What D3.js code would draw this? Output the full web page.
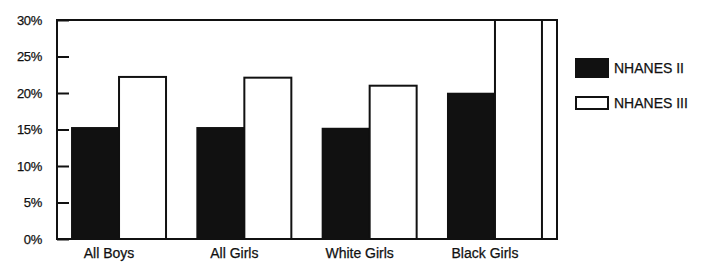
<!DOCTYPE html>
<html>
<head>
<meta charset="utf-8">
<script src="https://cdn.jsdelivr.net/npm/d3@7"></script>
<style>
  body { margin: 0; background: #fff; }
  text { font-family: "Liberation Sans", Arial, sans-serif; fill: #111; stroke: #111; stroke-width: 0.25px; }
</style>
</head>
<body>
<div id="chart"></div>
<script>
var categories = ["All Boys", "All Girls", "White Girls", "Black Girls"];
var seriesNames = ["NHANES II", "NHANES III"];
var nhanes2 = [15.2, 15.2, 15.1, 19.9];
var nhanes3 = [22.2, 22.1, 21.0, 31.0];
var yTicks = [0, 5, 10, 15, 20, 25, 30];

var W = 708, H = 268;
var margin = { top: 20, right: 151, bottom: 29, left: 57 };
var width = W - margin.left - margin.right;
var height = H - margin.top - margin.bottom;

var svg = d3.select("#chart").append("svg")
    .attr("width", W)
    .attr("height", H);

var g = svg.append("g")
    .attr("transform", "translate(" + margin.left + "," + margin.top + ")");

var x0 = d3.scaleBand()
    .domain(categories)
    .range([0, width])
    .paddingInner(0.25)
    .paddingOuter(0.12);

var x1 = d3.scaleBand()
    .domain(seriesNames)
    .range([0, x0.bandwidth()]);

var y = d3.scaleLinear()
    .domain([0, 30])
    .range([height, 0]);

svg.append("clipPath").attr("id", "plotclip")
    .append("rect").attr("x", 0).attr("y", 0).attr("width", width).attr("height", height);

var rows = categories.map(function(c, i) {
    return { cat: c, vals: [nhanes2[i], nhanes3[i]] };
});

var bars = g.append("g").attr("clip-path", "url(#plotclip)");

rows.forEach(function(r) {
    bars.selectAll(null)
        .data(r.vals)
        .enter().append("rect")
        .attr("x", function(d, i) { return x0(r.cat) + x1(seriesNames[i]); })
        .attr("y", function(d) { return y(d); })
        .attr("width", x1.bandwidth())
        .attr("height", function(d) { return height - y(d); })
        .attr("fill", function(d, i) { return i === 0 ? "#111" : "#fff"; })
        .attr("stroke", "#111")
        .attr("stroke-width", 2);
});

// frame
g.append("rect")
    .attr("x", 0).attr("y", 0)
    .attr("width", width).attr("height", height)
    .attr("fill", "none")
    .attr("stroke", "#111")
    .attr("stroke-width", 2);

// y axis, ticks inside
var yAxis = g.append("g")
    .call(d3.axisLeft(y).tickValues(yTicks).tickSize(-12).tickPadding(15)
        .tickFormat(function(d) { return d + "%"; }));
yAxis.select(".domain").remove();
yAxis.selectAll("line").attr("stroke", "#111").attr("stroke-width", 2);
yAxis.selectAll("text")
    .style("font-size", "13px")
    .style("letter-spacing", "-0.3px")
    .attr("fill", "#111");

// category labels
g.selectAll(".cat")
    .data(categories)
    .enter().append("text")
    .attr("x", function(d) { return x0(d) + x0.bandwidth() / 2 - 10; })
    .attr("y", height + 19)
    .attr("text-anchor", "middle")
    .style("font-size", "14px")
    .text(function(d) { return d; });

// legend
var legend = svg.append("g").attr("transform", "translate(575,0)");
var legendItems = [
    { name: seriesNames[0], y: 59, h: 18, fill: "#111" },
    { name: seriesNames[1], y: 97, h: 12, fill: "#fff" }
];
legendItems.forEach(function(it) {
    legend.append("rect")
        .attr("x", 1).attr("y", it.y)
        .attr("width", 32).attr("height", it.h)
        .attr("fill", it.fill)
        .attr("stroke", "#111")
        .attr("stroke-width", 2);
    legend.append("text")
        .attr("x", 39)
        .attr("y", it.y + it.h / 2 + 5)
        .style("font-size", "14px")
        .text(it.name);
});
</script>
</body>
</html>
